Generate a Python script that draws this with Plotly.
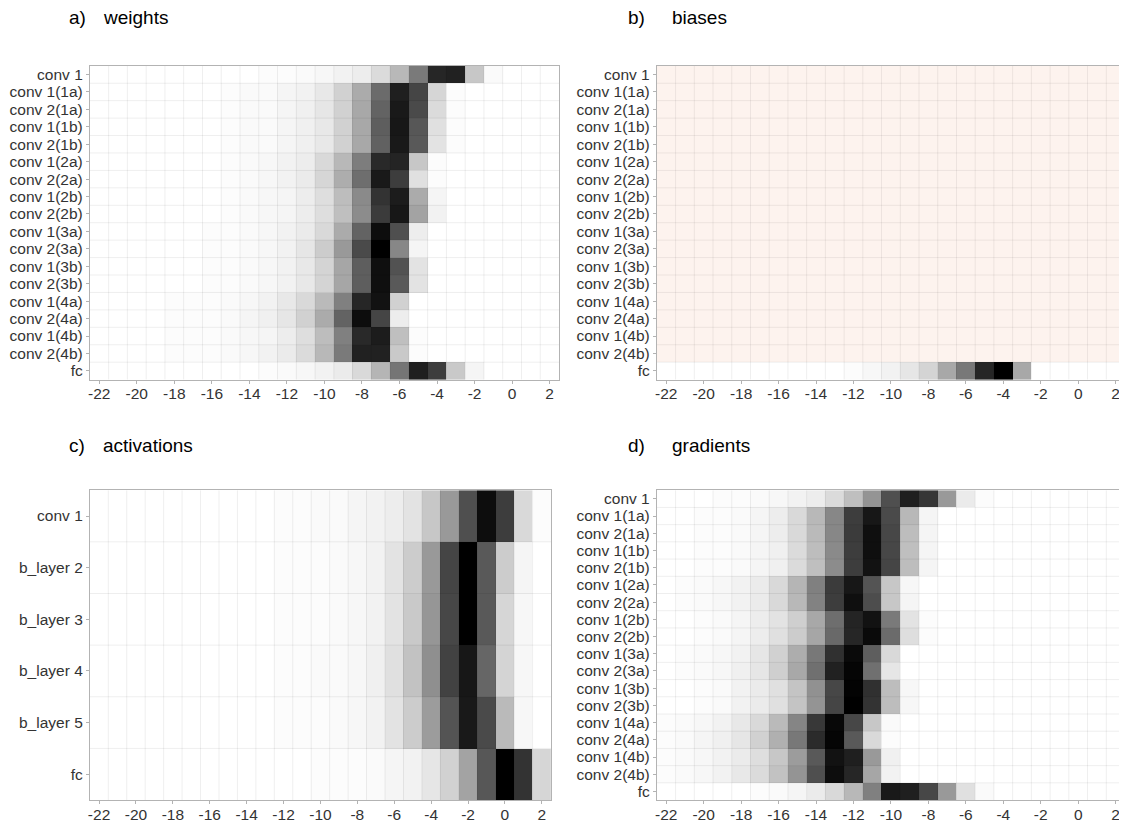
import plotly.graph_objects as go

# ---------------- data ----------------
bins = [-22, -21, -20, -19, -18, -17, -16, -15, -14, -13, -12, -11, -10,
        -9, -8, -7, -6, -5, -4, -3, -2, -1, 0, 1, 2]
x_ticks = [-22, -20, -18, -16, -14, -12, -10, -8, -6, -4, -2, 0, 2]

layers_conv = ["conv 1", "conv 1(1a)", "conv 2(1a)", "conv 1(1b)", "conv 2(1b)",
               "conv 1(2a)", "conv 2(2a)", "conv 1(2b)", "conv 2(2b)",
               "conv 1(3a)", "conv 2(3a)", "conv 1(3b)", "conv 2(3b)",
               "conv 1(4a)", "conv 2(4a)", "conv 1(4b)", "conv 2(4b)", "fc"]
layers_act = ["conv 1", "b_layer 2", "b_layer 3", "b_layer 4", "b_layer 5", "fc"]

Z10 = [0] * 10
N = None

# intensity (0 = white, 1 = black), columns follow `bins`
weights = [
    [0, 0, 0, 0, 0, 0, 0, 0, 0, 0.01, 0.01, 0.02, 0.03, 0.05, 0.07, 0.14, 0.28, 0.52, 0.85, 0.87, 0.22, 0.02, 0, 0, 0],
    [0, 0, 0, 0, 0, 0, 0, 0.01, 0.02, 0.02, 0.04, 0.05, 0.09, 0.18, 0.33, 0.58, 0.88, 0.73, 0.16, 0.01, 0, 0, 0, 0, 0],
    [0, 0, 0, 0, 0, 0, 0, 0.01, 0.02, 0.02, 0.04, 0.06, 0.10, 0.18, 0.34, 0.61, 0.90, 0.71, 0.14, 0.01, 0, 0, 0, 0, 0],
    [0, 0, 0, 0, 0, 0, 0, 0.01, 0.02, 0.02, 0.04, 0.06, 0.09, 0.18, 0.34, 0.63, 0.91, 0.66, 0.12, 0.01, 0, 0, 0, 0, 0],
    [0, 0, 0, 0, 0, 0, 0, 0.01, 0.02, 0.02, 0.04, 0.06, 0.09, 0.18, 0.34, 0.62, 0.90, 0.65, 0.11, 0.01, 0, 0, 0, 0, 0],
    [0, 0, 0, 0, 0, 0, 0, 0.01, 0.02, 0.03, 0.05, 0.07, 0.15, 0.28, 0.51, 0.84, 0.86, 0.22, 0.01, 0, 0, 0, 0, 0, 0],
    [0, 0, 0, 0, 0, 0, 0, 0.01, 0.02, 0.03, 0.05, 0.08, 0.16, 0.32, 0.57, 0.90, 0.76, 0.12, 0.01, 0, 0, 0, 0, 0, 0],
    [0, 0, 0, 0, 0, 0, 0, 0.01, 0.02, 0.03, 0.04, 0.07, 0.13, 0.26, 0.46, 0.80, 0.89, 0.33, 0.04, 0, 0, 0, 0, 0, 0],
    [0, 0, 0, 0, 0, 0, 0, 0.01, 0.02, 0.03, 0.04, 0.07, 0.13, 0.25, 0.45, 0.77, 0.91, 0.36, 0.05, 0, 0, 0, 0, 0, 0],
    [0, 0, 0, 0, 0, 0, 0.01, 0.01, 0.02, 0.03, 0.05, 0.08, 0.15, 0.33, 0.61, 0.95, 0.69, 0.07, 0, 0, 0, 0, 0, 0, 0],
    [0, 0, 0, 0, 0, 0, 0.01, 0.01, 0.02, 0.03, 0.05, 0.10, 0.20, 0.40, 0.71, 1.00, 0.47, 0.04, 0, 0, 0, 0, 0, 0, 0],
    [0, 0, 0, 0, 0, 0, 0.01, 0.01, 0.02, 0.03, 0.05, 0.09, 0.17, 0.35, 0.63, 0.94, 0.68, 0.11, 0, 0, 0, 0, 0, 0, 0],
    [0, 0, 0, 0, 0, 0, 0.01, 0.01, 0.02, 0.03, 0.05, 0.09, 0.17, 0.35, 0.63, 0.94, 0.65, 0.11, 0, 0, 0, 0, 0, 0, 0],
    [0, 0, 0, 0, 0.01, 0.01, 0.01, 0.02, 0.03, 0.05, 0.09, 0.15, 0.27, 0.50, 0.85, 0.93, 0.18, 0, 0, 0, 0, 0, 0, 0, 0],
    [0, 0, 0, 0, 0.01, 0.01, 0.01, 0.02, 0.04, 0.06, 0.10, 0.18, 0.33, 0.61, 0.95, 0.73, 0.07, 0, 0, 0, 0, 0, 0, 0, 0],
    [0, 0, 0, 0, 0.01, 0.01, 0.01, 0.02, 0.03, 0.04, 0.07, 0.13, 0.26, 0.50, 0.84, 0.89, 0.25, 0.01, 0, 0, 0, 0, 0, 0, 0],
    [0, 0, 0, 0, 0.01, 0.01, 0.01, 0.02, 0.03, 0.05, 0.08, 0.14, 0.28, 0.52, 0.87, 0.87, 0.21, 0.01, 0, 0, 0, 0, 0, 0, 0],
    [0, 0, 0, 0, 0, 0, 0, 0, 0, 0.01, 0.02, 0.03, 0.05, 0.08, 0.15, 0.29, 0.54, 0.88, 0.76, 0.21, 0.04, 0, 0, 0, 0],
]

biases_fc = [0, 0, 0, 0, 0, 0, 0, 0, 0, 0, 0.01, 0.03, 0.05, 0.10, 0.17, 0.34, 0.53, 0.85, 1.00, 0.34, 0, 0, 0, 0, 0]
biases = [[N] * len(bins) for _ in range(len(layers_conv) - 1)] + [biases_fc]

activations = [
    [0, 0, 0, 0, 0, 0, 0, 0, 0, 0, 0.01, 0.01, 0.02, 0.02, 0.04, 0.05, 0.07, 0.11, 0.22, 0.40, 0.69, 0.95, 0.76, 0.15, 0.01],
    [0, 0, 0, 0, 0, 0, 0, 0, 0, 0, 0.01, 0.01, 0.01, 0.02, 0.03, 0.05, 0.11, 0.20, 0.40, 0.73, 1.00, 0.65, 0.20, 0.04, 0],
    [0, 0, 0, 0, 0, 0, 0, 0, 0, 0, 0.01, 0.01, 0.01, 0.02, 0.03, 0.05, 0.11, 0.21, 0.41, 0.72, 1.00, 0.65, 0.16, 0.03, 0],
    [0, 0, 0, 0, 0, 0, 0, 0, 0, 0, 0.01, 0.01, 0.02, 0.02, 0.03, 0.06, 0.12, 0.24, 0.44, 0.74, 0.91, 0.60, 0.17, 0.03, 0],
    [0, 0, 0, 0, 0, 0, 0, 0, 0, 0, 0.01, 0.01, 0.01, 0.02, 0.03, 0.05, 0.11, 0.20, 0.39, 0.67, 0.90, 0.71, 0.27, 0.03, 0],
    [0, 0, 0, 0, 0, 0, 0, 0, 0, 0, 0, 0, 0.01, 0.01, 0.01, 0.02, 0.04, 0.05, 0.10, 0.18, 0.36, 0.66, 1.00, 0.80, 0.16],
]

gradients = [
    [0, 0, 0, 0.01, 0.01, 0.02, 0.03, 0.05, 0.07, 0.14, 0.25, 0.42, 0.69, 0.88, 0.79, 0.40, 0.08, 0.01, 0, 0, 0, 0, 0, 0, 0],
    [0, 0, 0.01, 0.01, 0.02, 0.04, 0.07, 0.15, 0.28, 0.47, 0.76, 0.91, 0.71, 0.28, 0.04] + Z10,
    [0, 0, 0.01, 0.01, 0.02, 0.04, 0.07, 0.15, 0.27, 0.47, 0.77, 0.94, 0.72, 0.26, 0.04] + Z10,
    [0, 0, 0.01, 0.01, 0.02, 0.04, 0.06, 0.14, 0.26, 0.46, 0.76, 0.94, 0.72, 0.25, 0.04] + Z10,
    [0, 0, 0.01, 0.01, 0.02, 0.04, 0.06, 0.14, 0.25, 0.45, 0.76, 0.93, 0.73, 0.26, 0.04] + Z10,
    [0, 0.01, 0.02, 0.03, 0.05, 0.08, 0.15, 0.29, 0.50, 0.77, 0.91, 0.67, 0.22, 0.03, 0] + Z10,
    [0, 0.01, 0.02, 0.03, 0.05, 0.08, 0.15, 0.28, 0.49, 0.76, 0.94, 0.70, 0.22, 0.04, 0] + Z10,
    [0, 0, 0.01, 0.02, 0.04, 0.07, 0.11, 0.19, 0.34, 0.57, 0.86, 0.93, 0.52, 0.11, 0.01] + Z10,
    [0, 0, 0.01, 0.02, 0.04, 0.07, 0.12, 0.20, 0.35, 0.59, 0.85, 0.96, 0.58, 0.13, 0.01] + Z10,
    [0, 0.01, 0.02, 0.03, 0.05, 0.10, 0.18, 0.32, 0.53, 0.81, 0.96, 0.63, 0.15, 0, 0] + Z10,
    [0, 0.01, 0.02, 0.03, 0.06, 0.10, 0.19, 0.34, 0.56, 0.87, 0.98, 0.56, 0.10, 0, 0] + Z10,
    [0, 0, 0.01, 0.02, 0.05, 0.08, 0.12, 0.23, 0.43, 0.72, 0.99, 0.81, 0.26, 0.03, 0] + Z10,
    [0, 0, 0.01, 0.02, 0.05, 0.08, 0.12, 0.23, 0.42, 0.73, 1.00, 0.80, 0.26, 0.03, 0] + Z10,
    [0.01, 0.02, 0.03, 0.05, 0.09, 0.15, 0.27, 0.48, 0.78, 0.97, 0.72, 0.22, 0.02, 0, 0] + Z10,
    [0.01, 0.02, 0.04, 0.06, 0.10, 0.18, 0.31, 0.53, 0.83, 0.98, 0.65, 0.15, 0.01, 0, 0] + Z10,
    [0.01, 0.02, 0.03, 0.05, 0.08, 0.13, 0.22, 0.39, 0.65, 0.93, 0.88, 0.40, 0.06, 0, 0] + Z10,
    [0.01, 0.02, 0.03, 0.05, 0.09, 0.14, 0.24, 0.42, 0.69, 0.95, 0.85, 0.35, 0.05, 0, 0] + Z10,
    [0, 0, 0, 0, 0, 0.01, 0.02, 0.04, 0.08, 0.15, 0.28, 0.50, 0.90, 0.88, 0.72, 0.40, 0.12, 0.02, 0, 0, 0, 0, 0, 0, 0],
]

panels = [
    ("a)", "weights", weights, layers_conv),
    ("b)", "biases", biases, layers_conv),
    ("c)", "activations", activations, layers_act),
    ("d)", "gradients", gradients, layers_conv),
]

# ---------------- layout geometry (figure pixels; page has an 8px body margin) ----------------
W, H = 1119, 815
boxes = [  # left, right, top, bottom
    (80, 550, 58, 373),
    (648, 1117, 58, 373),
    (80, 542, 484, 795),
    (648, 1117, 484, 795),
]
title_pos = [(57, 91, 10), (617, 661, 10), (57, 91, 439), (617, 661, 439)]

FONT = "Liberation Sans, Arial, Helvetica, sans-serif"
NA_COLOR = "#fdf3ee"
GRID = "rgba(0,0,0,0.065)"
BORDER = "#b3b3b3"

fig = go.Figure()
shapes = []
annotations = []

for i, (lab, name, z, rows) in enumerate(panels):
    k = "" if i == 0 else str(i + 1)
    xa, ya = "x" + k, "y" + k
    yidx = list(range(len(rows)))

    # NA background cells (present only where value is missing)
    na_mask = [[1 if v is None else None for v in r] for r in z]
    if any(v is not None for r in na_mask for v in r):
        fig.add_trace(go.Heatmap(
            z=na_mask, x=bins, y=yidx, xaxis=xa, yaxis=ya,
            colorscale=[[0, NA_COLOR], [1, NA_COLOR]], showscale=False,
            hoverinfo="skip"))

    fig.add_trace(go.Heatmap(
        z=z, x=bins, y=yidx, xaxis=xa, yaxis=ya,
        colorscale=[[0, "#ffffff"], [1, "#000000"]], zmin=0, zmax=1,
        showscale=False, xgap=0, ygap=0))

    l, r, t, b = boxes[i]
    common = dict(showline=True, linecolor=BORDER, linewidth=1, mirror=True,
                  ticks="outside", ticklen=3, tickcolor=BORDER, showgrid=False,
                  zeroline=False, tickfont=dict(family=FONT, size=15.5, color="#333333"))
    fig.update_layout(**{
        ("xaxis" + k): dict(domain=[l / W, r / W], anchor=ya,
                            range=[bins[0] - 0.5, bins[-1] + 0.5],
                            tickvals=x_ticks, ticktext=[str(v) for v in x_ticks],
                            ticklabelstandoff=-3, **common),
        ("yaxis" + k): dict(domain=[1 - b / H, 1 - t / H], anchor=xa,
                            range=[len(rows) - 0.5, -0.5],
                            tickvals=yidx, ticktext=rows, **common),
    })

    # grid lines drawn above the tiles at cell boundaries
    for xv in bins[1:]:
        shapes.append(dict(type="line", xref=xa, yref=ya, x0=xv - 0.5, x1=xv - 0.5,
                           y0=-0.5, y1=len(rows) - 0.5, layer="above",
                           line=dict(color=GRID, width=1)))
    for yv in yidx[1:]:
        shapes.append(dict(type="line", xref=xa, yref=ya, x0=bins[0] - 0.5, x1=bins[-1] + 0.5,
                           y0=yv - 0.5, y1=yv - 0.5, layer="above",
                           line=dict(color=GRID, width=1)))

    lx, nx, ty = title_pos[i]
    annotations.append(dict(text=lab, xref="paper", yref="paper", x=lx / W, y=1 - ty / H,
                            xanchor="left", yanchor="middle", showarrow=False,
                            font=dict(family=FONT, size=19, color="#000000")))
    annotations.append(dict(text=name, xref="paper", yref="paper", x=nx / W, y=1 - ty / H,
                            xanchor="left", yanchor="middle", showarrow=False,
                            font=dict(family=FONT, size=19, color="#000000")))

fig.update_layout(width=W, height=H, margin=dict(l=0, r=0, t=0, b=0),
                  paper_bgcolor="white", plot_bgcolor="white",
                  shapes=shapes, annotations=annotations, showlegend=False,
                  font=dict(family=FONT))

fig.write_html("out.html")
